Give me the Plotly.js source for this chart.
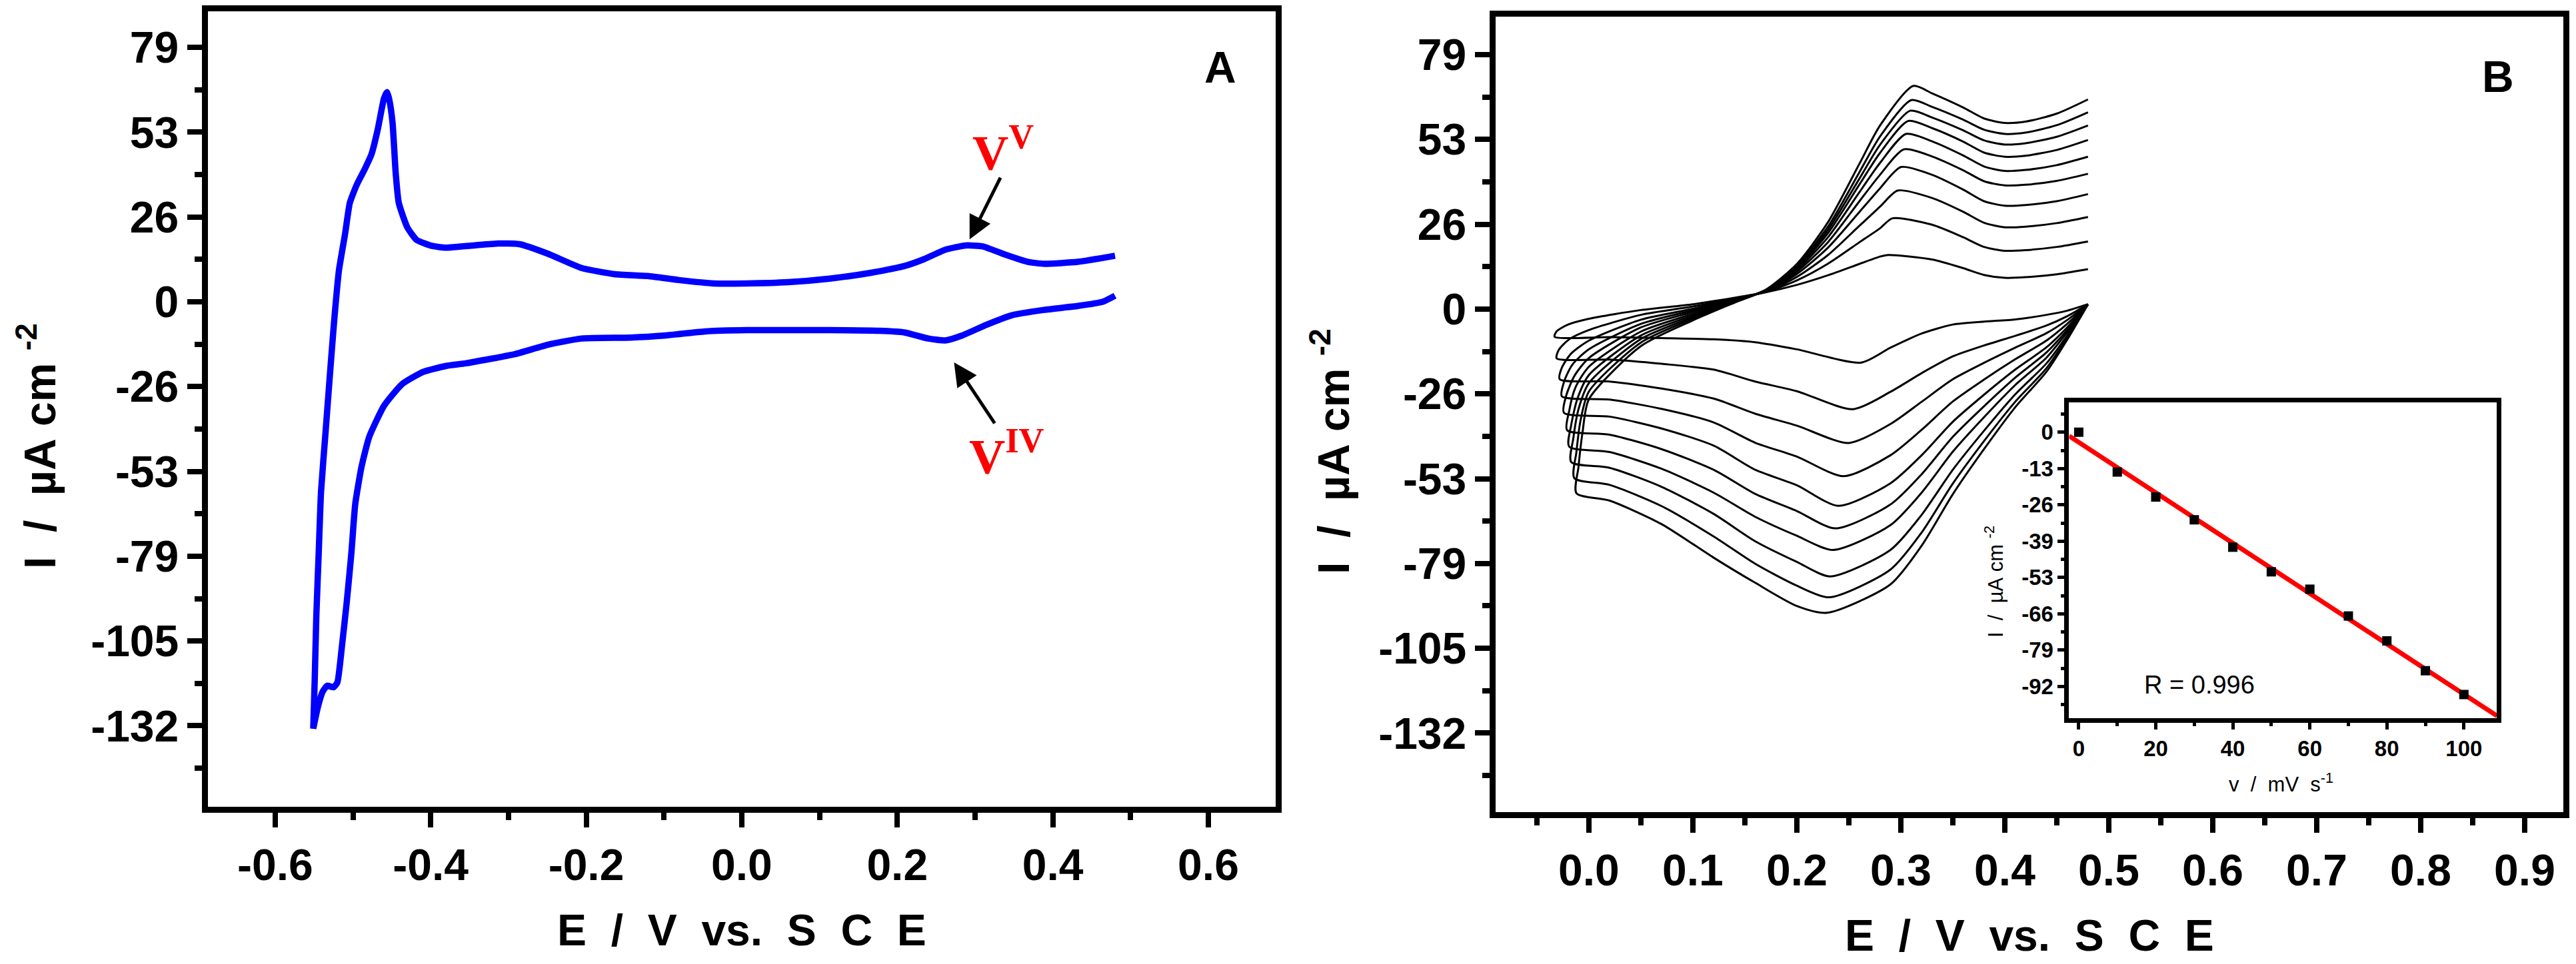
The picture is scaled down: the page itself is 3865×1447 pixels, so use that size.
<!DOCTYPE html>
<html>
<head>
<meta charset="utf-8">
<script src="https://cdn.plot.ly/plotly-3.0.1.min.js"></script>
<style>
html,body{margin:0;padding:0;background:#ffffff;}
#chart{width:3865px;height:1447px;}
</style>
</head>
<body>
<div id="chart"></div>
<script>
// ---------------- Panel A : single CV (blue) ----------------
const aUpperE = [0.480, 0.432, 0.389, 0.368, 0.336, 0.310, 0.288, 0.262, 0.235, 0.209, 0.166, 0.113, 0.060, 0.006, -0.036, -0.079, -0.121, -0.164, -0.206, -0.249, -0.286, -0.313, -0.345, -0.380, -0.399, -0.418, -0.430, -0.441, -0.445, -0.449, -0.453, -0.456, -0.460, -0.468, -0.476, -0.485, -0.495, -0.504, -0.510, -0.518, -0.524, -0.529, -0.535, -0.541, -0.544, -0.547, -0.549, -0.551];
const aUpperI = [14.3, 12.4, 11.8, 12.4, 14.9, 17.2, 17.5, 16.2, 13.3, 11.1, 9.0, 7.2, 6.1, 5.7, 5.7, 6.7, 8.0, 8.6, 10.5, 14.9, 17.9, 18.1, 17.5, 16.8, 17.4, 19.2, 23.1, 30.7, 40.0, 55.5, 62.5, 65.1, 63.2, 53.6, 45.9, 41.1, 36.4, 30.7, 21.2, 9.7, -5.6, -20.8, -39.9, -59.0, -78.1, -97.2, -116.3, -132.5];
const aLowerE = [-0.551, -0.545, -0.539, -0.533, -0.525, -0.520, -0.514, -0.508, -0.502, -0.497, -0.489, -0.479, -0.460, -0.437, -0.410, -0.380, -0.355, -0.291, -0.249, -0.206, -0.143, -0.100, -0.047, 0.006, 0.113, 0.177, 0.209, 0.240, 0.262, 0.283, 0.315, 0.347, 0.389, 0.432, 0.464, 0.480];
const aLowerI = [-132.5, -125.8, -121.1, -119.2, -119.7, -118.2, -106.7, -93.4, -78.1, -62.8, -51.3, -41.9, -32.3, -25.6, -21.8, -19.9, -19.1, -16.2, -13.3, -11.4, -11.1, -10.5, -9.2, -8.8, -8.8, -9.0, -9.5, -11.4, -12.0, -10.5, -7.1, -4.2, -2.5, -1.3, 0.0, 1.9];

// ---------------- Panel B : ten CVs at increasing scan rate ----------------
// cathodic sweep (0.48 V -> left vertex)
const bLowerE1 = [0.48, 0.46, 0.44, 0.41, 0.38, 0.35, 0.32, 0.29];
const bLowerI1 = [
  [1.5, -0.5, -1.8, -3.2, -3.9, -4.8, -7.6, -12.0],
  [1.5, -2.2, -5.1, -8.3, -11.3, -14.7, -19.9, -25.7],
  [1.5, -3.4, -7.5, -12.0, -16.7, -21.8, -28.8, -35.7],
  [1.5, -4.6, -9.8, -15.6, -21.9, -28.7, -37.5, -45.4],
  [1.5, -5.7, -11.9, -18.8, -26.6, -35.0, -45.4, -54.1],
  [1.5, -6.5, -13.5, -21.3, -30.2, -39.7, -51.3, -60.7],
  [1.5, -7.2, -15.1, -23.6, -33.6, -44.3, -57.0, -67.1],
  [1.5, -8.2, -16.9, -26.5, -37.8, -49.9, -63.9, -74.8],
  [1.5, -8.9, -18.4, -28.8, -41.0, -54.2, -69.4, -80.9],
  [1.5, -9.5, -19.5, -30.5, -43.5, -57.5, -73.5, -85.5]
];
const bCathPeakE = [0.262, 0.254, 0.250, 0.245, 0.240, 0.237, 0.235, 0.232, 0.231, 0.229];
const bCathPeakI = [-16.6, -31.1, -41.6, -51.9, -61.1, -68.1, -74.8, -83.0, -89.5, -94.3];
const bLowerE2 = [0.20, 0.16, 0.12, 0.07, 0.02];
const bLowerI2 = [
  [-12.5, -10.3, -9.4, -9.0, -8.7],
  [-25.5, -22.5, -18.8, -17.0, -15.7],
  [-36.2, -32.5, -27.8, -24.7, -22.5],
  [-45.8, -41.5, -35.2, -31.0, -28.1],
  [-54.7, -49.9, -42.4, -37.1, -33.4],
  [-62.7, -57.4, -49.9, -43.5, -39.0],
  [-70.4, -64.5, -57.0, -49.6, -44.4],
  [-78.5, -72.1, -63.6, -55.2, -49.3],
  [-85.9, -79.1, -70.6, -61.2, -54.6],
  [-92.2, -85.0, -77.2, -66.8, -59.5]
];
// left vertex and the reversal
const bVertexE = [-0.033, -0.031, -0.028, -0.026, -0.024, -0.021, -0.019, -0.017, -0.014, -0.012];
const bVertexI = [-8.6, -15.3, -21.8, -27.1, -32.2, -37.6, -42.7, -47.5, -52.5, -57.2];
const bKnee1E = [-0.031, -0.029, -0.026, -0.024, -0.022, -0.019, -0.017, -0.015, -0.012, -0.010];
const bKnee1I = [-6.9, -12.7, -18.2, -22.7, -27.1, -31.7, -36.0, -40.2, -44.4, -49.0];
const bKnee2E = [-0.020, -0.019, -0.017, -0.016, -0.014, -0.013, -0.011, -0.010, -0.008, -0.006];
const bKnee2I = [-4.8, -9.4, -13.8, -17.3, -20.8, -24.4, -27.8, -31.1, -34.5, -38.0];
// anodic sweep (left vertex -> 0.48 V)
const bUpperE1 = [0.00, 0.05, 0.10, 0.14, 0.17, 0.20, 0.23, 0.26, 0.28];
const bUpperI1 = [
  [-3.0, -0.3, 1.5, 3.5, 5.2, 7.5, 10.5, 14.0, 16.3],
  [-6.5, -1.8, 0.8, 3.3, 5.3, 8.9, 14.1, 20.7, 25.1],
  [-9.8, -3.3, 0.1, 3.1, 5.4, 10.0, 16.8, 25.8, 31.8],
  [-12.5, -4.6, -0.4, 2.9, 5.5, 10.9, 19.1, 30.1, 37.5],
  [-15.2, -5.7, -0.9, 2.8, 5.6, 11.6, 20.8, 33.4, 41.7],
  [-17.9, -7.0, -1.5, 2.6, 5.7, 12.2, 22.3, 36.2, 45.4],
  [-20.5, -8.2, -2.0, 2.4, 5.8, 12.6, 23.6, 38.6, 48.5],
  [-23.0, -9.3, -2.5, 2.3, 5.9, 13.0, 24.6, 40.4, 51.0],
  [-25.6, -10.4, -3.0, 2.1, 5.9, 13.5, 25.6, 42.4, 53.6],
  [-28.0, -11.5, -3.5, 2.0, 6.0, 14.0, 27.0, 45.0, 57.0]
];
const bAnPeakE = [0.288, 0.292, 0.297, 0.300, 0.303, 0.305, 0.307, 0.309, 0.310, 0.312];
const bAnPeakI = [16.8, 28.2, 36.8, 44.1, 49.6, 54.4, 58.4, 61.6, 64.9, 69.3];
const bUpperE2 = [0.33, 0.36, 0.38, 0.40, 0.42, 0.45, 0.48];
const bUpperI2 = [
  [15.4, 12.7, 10.6, 9.7, 9.9, 10.8, 12.4],
  [26.2, 22.3, 19.3, 18.1, 18.3, 19.3, 21.0],
  [34.5, 30.2, 26.8, 25.4, 25.6, 26.7, 28.6],
  [41.7, 37.1, 33.5, 32.1, 32.3, 33.5, 35.7],
  [47.4, 43.1, 39.7, 38.4, 38.6, 39.8, 42.0],
  [52.1, 47.7, 44.3, 42.9, 43.2, 44.7, 47.3],
  [56.2, 52.0, 48.6, 47.3, 47.6, 49.4, 52.5],
  [59.5, 55.5, 52.4, 51.1, 51.5, 53.5, 57.0],
  [62.8, 58.8, 55.7, 54.4, 54.8, 57.1, 61.1],
  [67.0, 62.6, 59.2, 57.8, 58.2, 60.7, 65.1]
];

// ---------------- Inset : cathodic peak current vs scan rate ----------------
const scanRate = [0, 10, 20, 30, 40, 50, 60, 70, 80, 90, 100];
const peakCurrent = [0.0, -14.4, -23.4, -31.7, -41.6, -50.5, -56.8, -66.5, -75.5, -86.3, -94.9];
const rText = 'R = 0.996';

// ---------------- tick labels ----------------
const mainYTickVals = [79, 52.667, 26.333, 0, -26.333, -52.667, -79, -105.333, -131.667];
const mainYTickText = ['79', '53', '26', '0', '-26', '-53', '-79', '-105', '-132'];
const aXTickVals = [-0.6, -0.4, -0.2, 0.0, 0.2, 0.4, 0.6];
const aXTickText = ['-0.6', '-0.4', '-0.2', '0.0', '0.2', '0.4', '0.6'];
const bXTickVals = [0.0, 0.1, 0.2, 0.3, 0.4, 0.5, 0.6, 0.7, 0.8, 0.9];
const bXTickText = ['0.0', '0.1', '0.2', '0.3', '0.4', '0.5', '0.6', '0.7', '0.8', '0.9'];
const insetXTickVals = [0, 20, 40, 60, 80, 100];
const insetXTickText = ['0', '20', '40', '60', '80', '100'];
const insetYTickVals = [0, -13.143, -26.286, -39.429, -52.571, -65.714, -78.857, -92];
const insetYTickText = ['0', '-13', '-26', '-39', '-53', '-66', '-79', '-92'];

// ---------------- build ----------------
const FONT = 'Liberation Sans Narrow, Liberation Sans, Arial, sans-serif';
const SERIF = 'Liberation Serif, Times New Roman, serif';

const traces = [];
traces.push({
  x: aUpperE.concat(aLowerE), y: aUpperI.concat(aLowerI),
  xaxis: 'x', yaxis: 'y', type: 'scatter', mode: 'lines',
  line: {color: '#0000ff', width: 9.5, shape: 'spline', smoothing: 0.5},
  hoverinfo: 'skip', showlegend: false
});

for (let k = 0; k < 10; k++) {
  const xs = [].concat(bLowerE1, [bCathPeakE[k]], bLowerE2, [bVertexE[k], bKnee1E[k], bKnee2E[k]], bUpperE1, [bAnPeakE[k]], bUpperE2);
  const ys = [].concat(bLowerI1[k], [bCathPeakI[k]], bLowerI2[k], [bVertexI[k], bKnee1I[k], bKnee2I[k]], bUpperI1[k], [bAnPeakI[k]], bUpperI2[k]);
  traces.push({
    x: xs, y: ys, xaxis: 'x2', yaxis: 'y2', type: 'scatter', mode: 'lines',
    line: {color: '#000000', width: 3, shape: 'spline', smoothing: 0.7},
    hoverinfo: 'skip', showlegend: false
  });
}

// linear regression for inset
const n = scanRate.length;
const mx = scanRate.reduce((s, v) => s + v, 0) / n;
const my = peakCurrent.reduce((s, v) => s + v, 0) / n;
let sxy = 0, sxx = 0;
for (let i = 0; i < n; i++) { sxy += (scanRate[i] - mx) * (peakCurrent[i] - my); sxx += (scanRate[i] - mx) ** 2; }
const slope = sxy / sxx, icpt = my - slope * mx;
const insetXRange = [-2.5, 108.6];
traces.push({
  x: insetXRange, y: insetXRange.map(v => icpt + slope * v),
  xaxis: 'x3', yaxis: 'y3', type: 'scatter', mode: 'lines',
  line: {color: '#ff0000', width: 7}, hoverinfo: 'skip', showlegend: false
});
traces.push({
  x: scanRate, y: peakCurrent, xaxis: 'x3', yaxis: 'y3', type: 'scatter', mode: 'markers',
  marker: {symbol: 'square', size: 14, color: '#000000'}, hoverinfo: 'skip', showlegend: false
});

function mainAxis(extra) {
  return Object.assign({
    showline: true, linewidth: 9, linecolor: '#000', mirror: true,
    ticks: 'outside', ticklen: 22, tickwidth: 8, tickcolor: '#000',
    showgrid: false, zeroline: false, tickmode: 'array',
    tickfont: {family: FONT, size: 66, color: '#000', weight: 'bold'}
  }, extra);
}
function insetAxis(extra) {
  return Object.assign({
    showline: true, linewidth: 7, linecolor: '#000', mirror: true,
    ticks: 'outside', ticklen: 10, tickwidth: 5, tickcolor: '#000',
    showgrid: false, zeroline: false, tickmode: 'array',
    tickfont: {family: FONT, size: 33, color: '#000', weight: 'bold'}
  }, extra);
}

const layout = {
  width: 3865, height: 1447,
  margin: {l: 0, r: 0, t: 0, b: 0, pad: 0},
  paper_bgcolor: '#fff', plot_bgcolor: '#fff',
  showlegend: false,
  xaxis: mainAxis({domain: [0.08085, 0.49534], range: [-0.686, 0.687], anchor: 'y',
    tickvals: aXTickVals, ticktext: aXTickText,
    minor: {tickmode: 'linear', tick0: 0, dtick: 0.1, ticks: 'outside', ticklen: 11, tickwidth: 8, tickcolor: '#000'}}),
  yaxis: mainAxis({domain: [0.16344, 0.98825], range: [-156.7, 90.2], anchor: 'x',
    tickvals: mainYTickVals, ticktext: mainYTickText,
    minor: {tickmode: 'linear', tick0: 0, dtick: 13.1667, ticks: 'outside', ticklen: 11, tickwidth: 8, tickcolor: '#000'}}),
  xaxis2: mainAxis({domain: [0.58072, 0.99521], range: [-0.0894, 0.9375], anchor: 'y2',
    tickvals: bXTickVals, ticktext: bXTickText,
    minor: {tickmode: 'linear', tick0: 0, dtick: 0.05, ticks: 'outside', ticklen: 11, tickwidth: 8, tickcolor: '#000'}}),
  yaxis2: mainAxis({domain: [0.15791, 0.98238], range: [-156.1, 90.7], anchor: 'x2',
    tickvals: mainYTickVals, ticktext: mainYTickText,
    minor: {tickmode: 'linear', tick0: 0, dtick: 13.1667, ticks: 'outside', ticklen: 11, tickwidth: 8, tickcolor: '#000'}}),
  xaxis3: insetAxis({domain: [0.80323, 0.96934], range: insetXRange, anchor: 'y3',
    tickvals: insetXTickVals, ticktext: insetXTickText,
    minor: {tickmode: 'linear', tick0: 0, dtick: 10, ticks: 'outside', ticklen: 5, tickwidth: 5, tickcolor: '#000'}}),
  yaxis3: insetAxis({domain: [0.25467, 0.58224], range: [-103.6, 10.7], anchor: 'x3',
    tickvals: insetYTickVals, ticktext: insetYTickText,
    minor: {tickmode: 'linear', tick0: 0, dtick: 6.5714, ticks: 'outside', ticklen: 5, tickwidth: 5, tickcolor: '#000'}}),
  annotations: [
    {xref: 'paper', yref: 'paper', x: 0.28797, y: 0.03525, xanchor: 'center', yanchor: 'middle', showarrow: false,
     text: 'E\u00a0\u00a0/\u00a0\u00a0V\u00a0\u00a0vs.\u00a0\u00a0S\u00a0\u00a0C\u00a0\u00a0E', font: {family: FONT, size: 66, color: '#000', weight: 'bold'}},
    {xref: 'paper', yref: 'paper', x: 0.78784, y: 0.02972, xanchor: 'center', yanchor: 'middle', showarrow: false,
     text: 'E\u00a0\u00a0/\u00a0\u00a0V\u00a0\u00a0vs.\u00a0\u00a0S\u00a0\u00a0C\u00a0\u00a0E', font: {family: FONT, size: 66, color: '#000', weight: 'bold'}},
    {xref: 'paper', yref: 'paper', x: 0.01423, y: 0.53766, xanchor: 'center', yanchor: 'middle', showarrow: false, textangle: -90,
     text: 'I\u00a0\u00a0/\u00a0\u00a0\u00b5A\u00a0cm\u00a0<sup>-2</sup>', font: {family: FONT, size: 66, color: '#000', weight: 'bold'}},
    {xref: 'paper', yref: 'paper', x: 0.51643, y: 0.53145, xanchor: 'center', yanchor: 'middle', showarrow: false, textangle: -90,
     text: 'I\u00a0\u00a0/\u00a0\u00a0\u00b5A\u00a0cm\u00a0<sup>-2</sup>', font: {family: FONT, size: 66, color: '#000', weight: 'bold'}},
    {xref: 'paper', yref: 'paper', x: 0.47374, y: 0.93020, xanchor: 'center', yanchor: 'middle', showarrow: false,
     text: 'A', font: {family: FONT, size: 66, color: '#000', weight: 'bold'}},
    {xref: 'paper', yref: 'paper', x: 0.96973, y: 0.92052, xanchor: 'center', yanchor: 'middle', showarrow: false,
     text: 'B', font: {family: FONT, size: 66, color: '#000', weight: 'bold'}},
    {xref: 'paper', yref: 'paper', x: 0.38939, y: 0.84520, xanchor: 'center', yanchor: 'middle', showarrow: false,
     text: 'V<sup>V</sup>', font: {family: SERIF, size: 75, color: '#ff0000', weight: 'bold'}},
    {xref: 'paper', yref: 'paper', x: 0.39069, y: 0.53075, xanchor: 'center', yanchor: 'middle', showarrow: false,
     text: 'V<sup>IV</sup>', font: {family: SERIF, size: 75, color: '#ff0000', weight: 'bold'}},
    {xref: 'x', yref: 'y', x: 0.293, y: 19.4, ax: 47, ay: -94, text: '', showarrow: true,
     arrowhead: 2, arrowsize: 1.4, arrowwidth: 5, arrowcolor: '#000', standoff: 0},
    {xref: 'x', yref: 'y', x: 0.273, y: -18.8, ax: 62, ay: 93, text: '', showarrow: true,
     arrowhead: 2, arrowsize: 1.4, arrowwidth: 5, arrowcolor: '#000', standoff: 0},
    {xref: 'paper', yref: 'paper', x: 0.85382, y: 0.28957, xanchor: 'center', yanchor: 'middle', showarrow: false,
     text: rText, font: {family: FONT, size: 38, color: '#000'}},
    {xref: 'paper', yref: 'paper', x: 0.88564, y: 0.18798, xanchor: 'center', yanchor: 'middle', showarrow: false,
     text: 'v\u00a0\u00a0/\u00a0\u00a0mV\u00a0\u00a0s<sup>-1</sup>', font: {family: FONT, size: 31, color: '#000'}},
    {xref: 'paper', yref: 'paper', x: 0.77413, y: 0.39668, xanchor: 'center', yanchor: 'middle', showarrow: false, textangle: -90,
     text: 'I\u00a0\u00a0/\u00a0\u00a0\u00b5A\u00a0cm\u00a0<sup>-2</sup>', font: {family: FONT, size: 31, color: '#000'}}
  ]
};

Plotly.newPlot('chart', traces, layout, {staticPlot: true, displayModeBar: false});
</script>
</body>
</html>
